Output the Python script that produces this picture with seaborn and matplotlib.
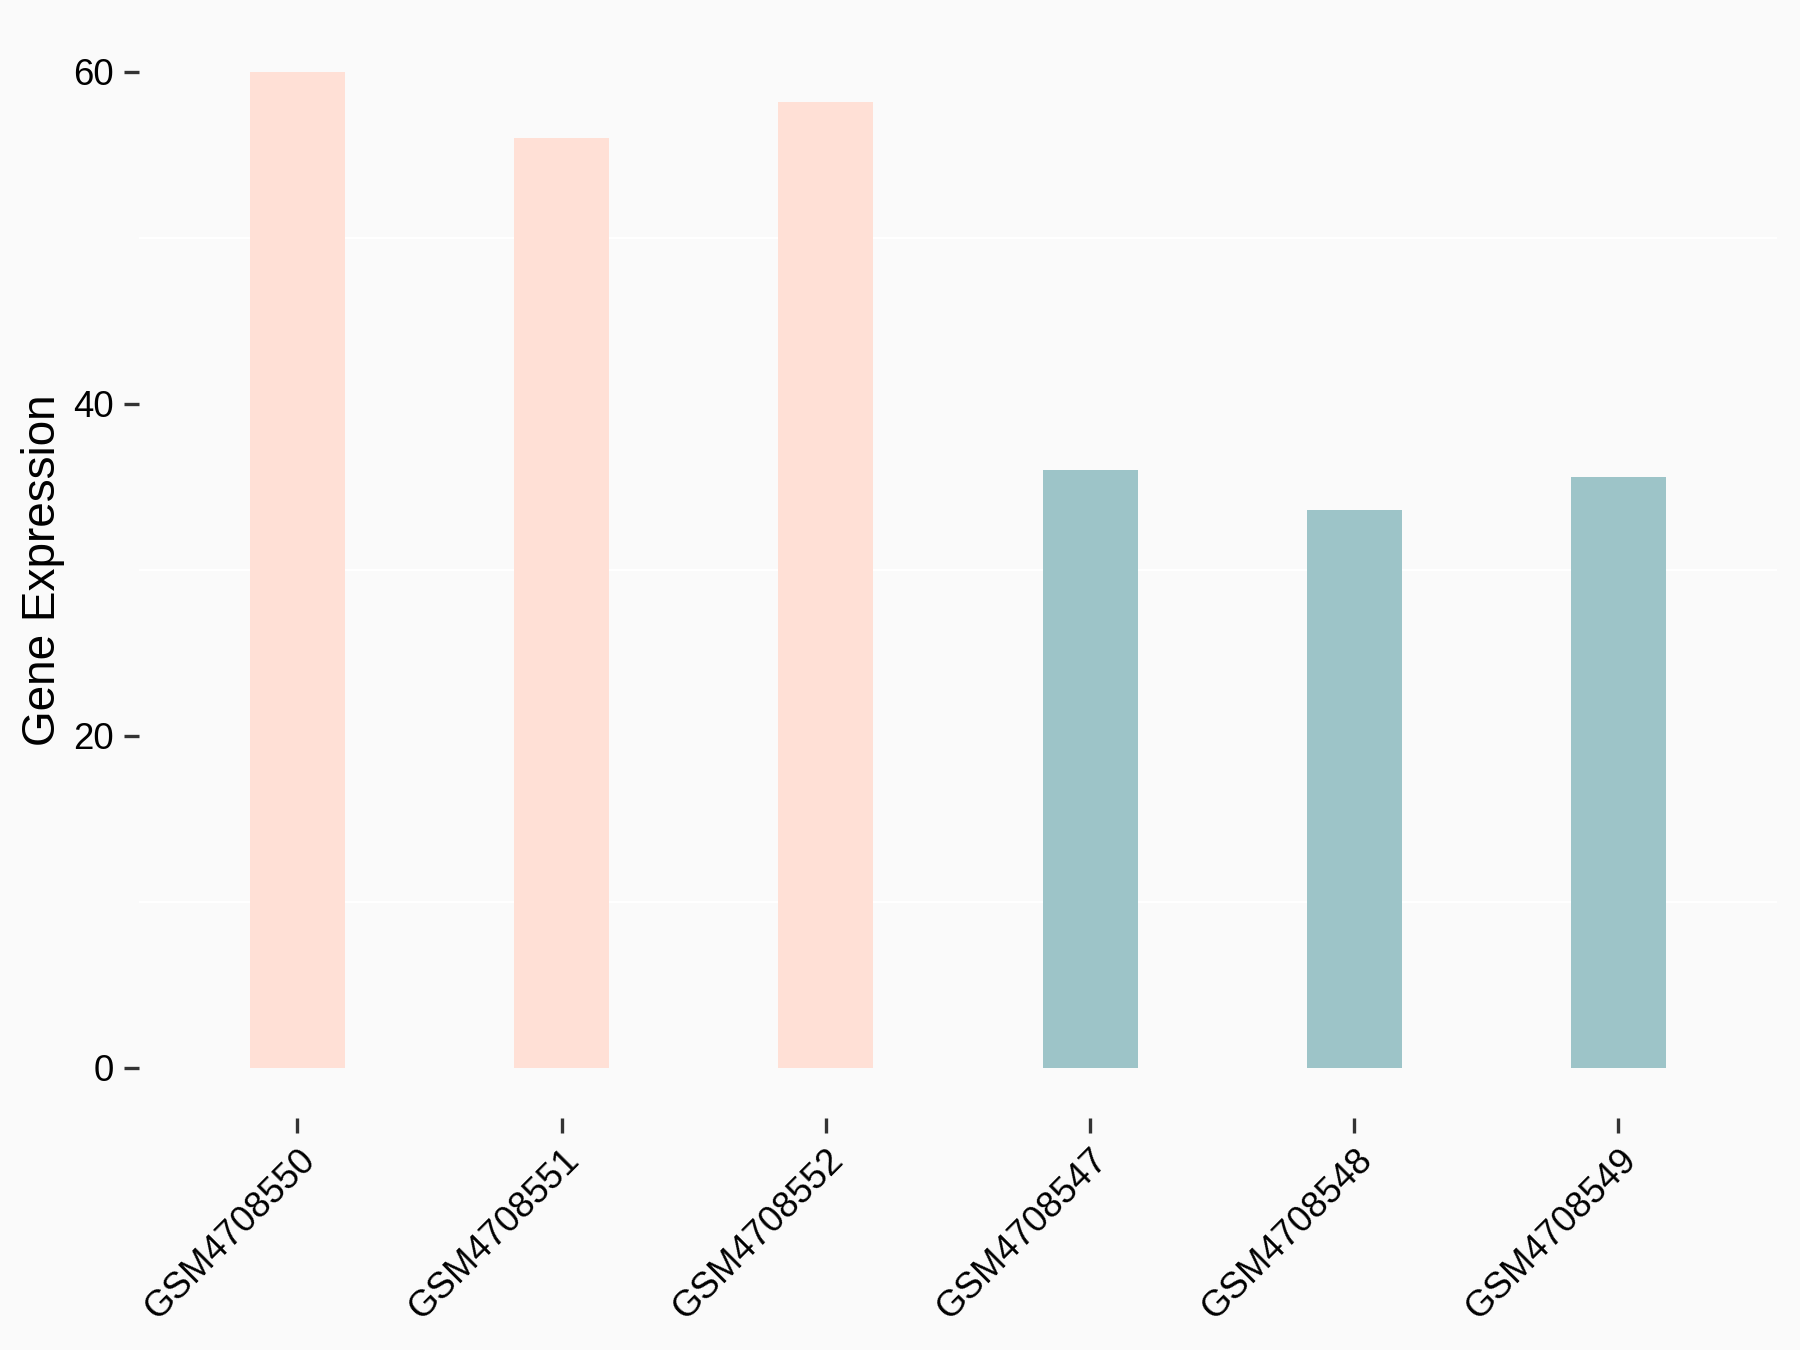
import numpy as np
import pandas as pd
import matplotlib
matplotlib.use('Agg')
import matplotlib.pyplot as plt
import seaborn as sns

# ================= data =================
samples = ['GSM4708550', 'GSM4708551', 'GSM4708552',
           'GSM4708547', 'GSM4708548', 'GSM4708549']
expression = [60.0, 56.0, 58.2, 36.0, 33.6, 35.6]
groups = ['A', 'A', 'A', 'B', 'B', 'B']
group_colors = {'A': '#FFE0D6', 'B': '#9DC4C8'}

df = pd.DataFrame({'sample': samples, 'expr': expression, 'group': groups})

sns.set_theme(style='white')
plt.rcParams['font.family'] = ['Liberation Sans', 'DejaVu Sans']

bg = '#FAFAFA'
fig = plt.figure(figsize=(12, 9), dpi=150, facecolor=bg)
ax = fig.add_axes([0.0772, 0.1722, 0.91, 0.8114])
ax.set_facecolor(bg)

# white minor grid lines like the ggplot theme
for v in [10, 30, 50]:
    ax.axhline(v, color='white', linewidth=1.0, zorder=0)

sns.barplot(data=df, x='sample', y='expr', hue='group', palette=group_colors,
            order=samples, width=0.36, dodge=False, legend=False,
            saturation=1, linewidth=0, edgecolor='none', ax=ax, zorder=2)

ax.set_xlim(-0.6, 5.6)
ax.set_ylim(-3, 63)
ax.set_yticks([0, 20, 40, 60])

for s in ax.spines.values():
    s.set_visible(False)

ax.tick_params(axis='both', which='major', length=7, width=1.6, color='#333333',
               labelsize=17.5, labelcolor='black', direction='out', pad=5,
               left=True, bottom=True)
plt.setp(ax.get_xticklabels(), rotation=45, ha='right', va='top',
         rotation_mode='anchor')

ax.set_xlabel('')
ax.set_ylabel('Gene Expression', fontsize=22, color='black', labelpad=4)

fig.savefig('out.png', dpi=150, facecolor=bg)
